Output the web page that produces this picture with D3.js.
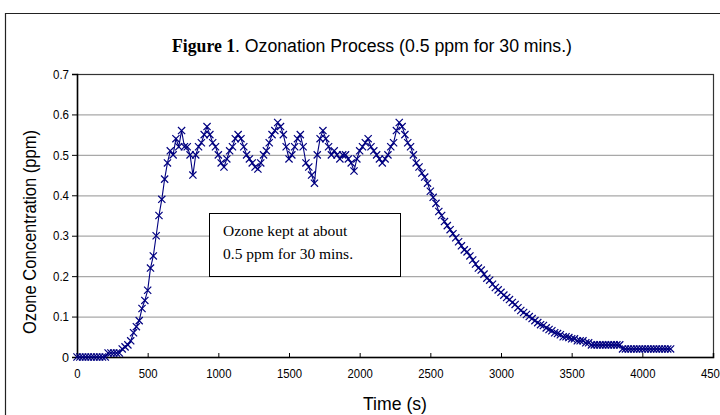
<!DOCTYPE html>
<html lang="en">
  <head>
    <meta charset="utf-8">
    <title>Ozonation Process</title>
    <script src="https://d3js.org/d3.v7.js"></script>
    <style>
      html, body {margin: 0; padding: 0; background: white; overflow: hidden;}
      svg {display: block;}
      .narrow {font-family: "Liberation Sans", Arial, sans-serif;}
    </style>
  </head>
  <body>
  <script>

  // sampling times (s) and ozone readings (ppm)
  var times = [0,20,40,60,80,100,120,140,160,180,200,220,240,260,280,300,320,340,360,380,
    400,420,440,460,480,500,520,540,560,580,600,620,640,660,680,700,720,740,760,780,
    800,820,840,860,880,900,920,940,960,980,1000,1020,1040,1060,1080,1100,1120,1140,1160,1180,
    1200,1220,1240,1260,1280,1300,1320,1340,1360,1380,1400,1420,1440,1460,1480,1500,1520,1540,1560,1580,
    1600,1620,1640,1660,1680,1700,1720,1740,1760,1780,1800,1820,1840,1860,1880,1900,1920,1940,1960,1980,
    2000,2020,2040,2060,2080,2100,2120,2140,2160,2180,2200,2220,2240,2260,2280,2300,2320,2340,2360,2380,
    2400,2420,2440,2460,2480,2500,2520,2540,2560,2580,2600,2620,2640,2660,2680,2700,2720,2740,2760,2780,
    2800,2820,2840,2860,2880,2900,2920,2940,2960,2980,3000,3020,3040,3060,3080,3100,3120,3140,3160,3180,
    3200,3220,3240,3260,3280,3300,3320,3340,3360,3380,3400,3420,3440,3460,3480,3500,3520,3540,3560,3580,
    3600,3620,3640,3660,3680,3700,3720,3740,3760,3780,3800,3820,3840,3860,3880,3900,3920,3940,3960,3980,
    4000,4020,4040,4060,4080,4100,4120,4140,4160,4180,4200];

  var ozone = [0,0,0,0,0,0,0,0,0,0,0,0.01,0.01,0.01,0.01,0.01,0.02,0.025,0.03,0.04,
    0.06,0.075,0.09,0.12,0.14,0.165,0.22,0.25,0.3,0.35,0.39,0.44,0.48,0.51,0.5,0.54,0.52,0.56,0.52,0.52,
    0.5,0.45,0.5,0.52,0.53,0.55,0.57,0.55,0.53,0.52,0.5,0.48,0.47,0.49,0.51,0.52,0.54,0.55,0.54,0.52,
    0.5,0.49,0.48,0.47,0.465,0.48,0.5,0.51,0.53,0.55,0.56,0.58,0.57,0.55,0.52,0.49,0.5,0.52,0.54,0.55,
    0.52,0.48,0.47,0.45,0.43,0.5,0.54,0.56,0.54,0.52,0.5,0.51,0.5,0.49,0.5,0.5,0.49,0.48,0.46,0.49,
    0.51,0.52,0.53,0.54,0.52,0.51,0.5,0.49,0.48,0.49,0.5,0.52,0.53,0.56,0.58,0.57,0.55,0.53,0.52,0.5,
    0.48,0.47,0.455,0.445,0.43,0.41,0.395,0.38,0.36,0.35,0.335,0.325,0.315,0.305,0.295,0.285,0.275,0.265,0.26,0.25,
    0.24,0.23,0.22,0.215,0.205,0.195,0.19,0.18,0.172,0.166,0.16,0.153,0.147,0.142,0.135,0.13,0.122,0.115,0.11,0.105,
    0.1,0.095,0.09,0.085,0.08,0.078,0.072,0.068,0.065,0.06,0.058,0.055,0.05,0.05,0.048,0.045,0.045,0.04,0.04,0.04,
    0.035,0.035,0.03,0.03,0.03,0.03,0.03,0.03,0.03,0.03,0.03,0.03,0.03,0.02,0.02,0.02,0.02,0.02,0.02,0.02,
    0.02,0.02,0.02,0.02,0.02,0.02,0.02,0.02,0.02,0.02,0.02];

  var xTicks = [0,500,1000,1500,2000,2500,3000,3500,4000,4500];
  var yTicks = [0,0.1,0.2,0.3,0.4,0.5,0.6,0.7];
  var noteLines = ["Ozone kept at about", "0.5 ppm for 30 mins."];

  var w = 720;
  var h = 415;
  var margin = {top: 74, right: 7, bottom: 58, left: 77};
  var innerWidth = w - margin.left - margin.right;
  var innerHeight = h - margin.top - margin.bottom;
  var blue = "#000080";

  var data = times.map(function(t, i) { return {t: t, v: ozone[i]}; });

  var svg = d3.select("body")
    .append("svg")
      .attr("width", w)
      .attr("height", h);

  // outer chart frame (only top and left edges fall inside the picture)
  svg.append("path")
     .attr("d", `M5.5,${h}V13.5H${w}`)
     .attr("fill", "none")
     .attr("stroke", "#222")
     .attr("stroke-width", 1.2);

  var xScale = d3.scaleLinear().domain([0, 4500]).range([0, innerWidth]);
  var yScale = d3.scaleLinear().domain([0, 0.7]).range([innerHeight, 0]);

  var g = svg.append("g")
     .attr("transform", `translate(${margin.left}, ${margin.top})`);

  //grid lines
  g.selectAll(".grid")
   .data(yTicks.filter(d => d > 0 && d < 0.7))
   .join("line")
   .attr("x1", 0).attr("x2", innerWidth)
   .attr("y1", d => yScale(d) + 0.5).attr("y2", d => yScale(d) + 0.5)
   .attr("stroke", "#a8a8a8")
   .attr("stroke-width", 1.2);

  //plot area border
  g.append("rect")
   .attr("x", 0.5).attr("y", 0.5)
   .attr("width", innerWidth).attr("height", innerHeight)
   .attr("fill", "none")
   .attr("stroke", "#333")
   .attr("stroke-width", 1.2);

  //x axis
  var xAxis = d3.axisBottom(xScale)
     .tickValues(xTicks)
     .tickSize(-4)
     .tickPadding(12)
     .tickFormat(d3.format("d"));
  var xg = g.append("g")
     .attr("transform", `translate(0, ${innerHeight})`)
     .call(xAxis);
  xg.select(".domain").attr("stroke", "#000").attr("stroke-width", 1.5);
  xg.selectAll("text").attr("class", "narrow").style("font-size", "13px").attr("fill", "#000")
    .attr("textLength", d => String(d).length * 6.3)
    .attr("lengthAdjust", "spacingAndGlyphs");

  //y axis
  var yAxis = d3.axisLeft(yScale)
     .tickValues(yTicks)
     .tickSize(5)
     .tickPadding(3)
     .tickFormat(d => d === 0 ? "0" : d3.format(".1f")(d));
  var yg = g.append("g").call(yAxis);
  yg.select(".domain").attr("stroke", "#000").attr("stroke-width", 1.5);
  yg.selectAll("text").attr("class", "narrow").style("font-size", "13px").attr("fill", "#000")
    .attr("textLength", d => d === 0 ? 7 : 16)
    .attr("lengthAdjust", "spacingAndGlyphs");

  //line
  var line = d3.line().x(d => xScale(d.t)).y(d => yScale(d.v));
  g.append("path")
   .datum(data)
   .attr("d", line)
   .attr("fill", "none")
   .attr("stroke", blue)
   .attr("stroke-width", 1.1);

  //x markers
  var s = 3.6;
  g.selectAll(".mark")
   .data(data)
   .join("path")
   .attr("class", "mark")
   .attr("d", d => {
     var x = xScale(d.t), y = yScale(d.v);
     return `M${x - s},${y - s}L${x + s},${y + s}M${x - s},${y + s}L${x + s},${y - s}`;
   })
   .attr("stroke", blue)
   .attr("stroke-width", 1.2);

  //annotation box
  svg.append("rect")
     .attr("x", 209.5).attr("y", 213.5)
     .attr("width", 191).attr("height", 63)
     .attr("fill", "white")
     .attr("stroke", "#000")
     .attr("stroke-width", 1);
  svg.selectAll(".note")
     .data(noteLines)
     .join("text")
     .attr("class", "note")
     .attr("x", 223)
     .attr("y", (d, i) => 236 + i * 23)
     .style("font-family", "'Liberation Serif', 'Times New Roman', serif")
     .style("font-size", "15.5px")
     .text(d => d);

  //title
  var title = svg.append("text")
     .attr("x", 172).attr("y", 52)
     .attr("textLength", 400)
     .attr("lengthAdjust", "spacingAndGlyphs");
  title.append("tspan")
     .style("font-family", "'Liberation Serif', 'Times New Roman', serif")
     .style("font-weight", "bold")
     .style("font-size", "18px")
     .text("Figure 1");
  title.append("tspan")
     .attr("class", "narrow")
     .style("font-size", "18px")
     .text(". Ozonation Process (0.5 ppm for 30 mins.)");

  //axis labels
  svg.append("text")
     .attr("class", "narrow")
     .attr("text-anchor", "middle")
     .attr("transform", "translate(36, 232) rotate(-90)")
     .attr("textLength", 204)
     .attr("lengthAdjust", "spacingAndGlyphs")
     .style("font-size", "19px")
     .text("Ozone Concentration (ppm)");

  svg.append("text")
     .attr("class", "narrow")
     .attr("text-anchor", "middle")
     .attr("x", 395).attr("y", 410)
     .attr("textLength", 64)
     .attr("lengthAdjust", "spacingAndGlyphs")
     .style("font-size", "19px")
     .text("Time (s)");

  </script>
  </body>
</html>
